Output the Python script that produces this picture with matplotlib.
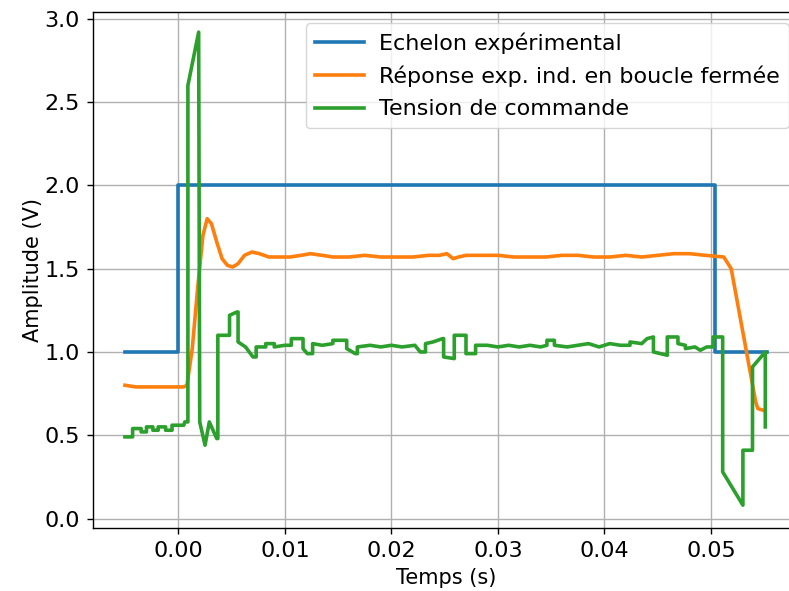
import numpy as np
import matplotlib
matplotlib.use("Agg")
from matplotlib import pyplot as plt

# time in ms, values in volts
t_step = [-5.0, 0.0, 0.0, 50.4, 50.4, 55.3]
v_step = [1.0, 1.0, 2.0, 2.0, 1.0, 1.0]

t_rep = [-5.02, -4.0, -2.0, 0.5, 0.8, 1.3, 1.8, 2.3, 2.7, 3.1, 3.6, 4.1, 4.6, 5.1, 5.6,
         6.2, 6.9, 7.6, 8.5, 9.5, 10.5, 11.5, 12.4, 13.5, 14.5, 16.0, 17.5, 19.0, 20.5,
         22.0, 23.5, 24.5, 25.2, 25.8, 26.3, 27.0, 28.5, 30.0, 31.5, 33.0, 34.5, 36.0,
         37.5, 39.0, 40.5, 42.0, 43.5, 45.0, 46.5, 48.0, 49.5, 51.2, 51.9, 54.2, 54.4, 54.9]
v_rep = [0.80, 0.79, 0.79, 0.79, 0.80, 1.02, 1.38, 1.70, 1.80, 1.77, 1.66, 1.56, 1.52,
         1.51, 1.53, 1.58, 1.60, 1.59, 1.57, 1.57, 1.57, 1.58, 1.59, 1.58, 1.57, 1.57,
         1.58, 1.57, 1.57, 1.57, 1.58, 1.58, 1.59, 1.56, 1.57, 1.58, 1.58, 1.58, 1.57,
         1.57, 1.57, 1.58, 1.58, 1.57, 1.57, 1.58, 1.57, 1.58, 1.59, 1.59, 1.58, 1.57,
         1.50, 0.70, 0.66, 0.65]

t_cmd = [-5.02, -4.3, -4.3, -3.5, -3.5, -3.0, -3.0, -2.4, -2.4, -1.9, -1.9, -1.2, -1.2,
         -0.6, -0.6, 0.5, 0.6, 0.89, 0.89, 1.9, 2.0, 2.5, 2.9, 3.6, 3.7, 3.7, 4.8, 4.8,
         5.5, 5.6, 5.6, 6.3, 7.0, 7.3, 7.3, 8.2, 8.2, 9.0, 9.0, 10.0, 10.6, 10.6, 11.7,
         11.7, 12.1, 12.6, 12.6, 13.5, 14.5, 14.5, 15.8, 15.8, 16.6, 16.8, 16.8, 18.0,
         19.0, 20.0, 21.0, 22.2, 22.7, 23.2, 23.2, 23.9, 24.8, 24.9, 24.9, 25.9, 25.9,
         27.0, 27.0, 27.9, 27.9, 29.0, 30.0, 31.0, 32.0, 33.0, 34.0, 34.6, 34.6, 35.3,
         35.3, 36.5, 37.5, 38.5, 39.5, 40.5, 41.5, 42.4, 42.4, 43.5, 44.0, 44.6, 44.6,
         45.9, 45.9, 46.9, 46.9, 47.6, 47.6, 48.5, 49.0, 49.6, 50.2, 50.2, 51.1, 51.1,
         53.0, 53.0, 53.9, 53.9, 55.1, 55.1]
v_cmd = [0.49, 0.49, 0.54, 0.54, 0.52, 0.52, 0.55, 0.55, 0.53, 0.53, 0.55, 0.55, 0.53,
         0.53, 0.56, 0.56, 0.58, 0.58, 2.60, 2.92, 0.58, 0.44, 0.58, 0.48, 0.48, 1.10,
         1.10, 1.22, 1.24, 1.24, 1.06, 1.03, 0.97, 0.97, 1.03, 1.03, 1.05, 1.05, 1.03,
         1.04, 1.04, 1.08, 1.08, 1.02, 0.99, 0.99, 1.05, 1.04, 1.05, 1.07, 1.07, 1.02,
         0.99, 0.99, 1.03, 1.04, 1.03, 1.04, 1.03, 1.04, 1.00, 1.00, 1.05, 1.06, 1.08,
         1.08, 0.97, 0.96, 1.10, 1.10, 0.99, 0.99, 1.04, 1.04, 1.03, 1.04, 1.03, 1.04,
         1.03, 1.04, 1.07, 1.07, 1.04, 1.03, 1.04, 1.05, 1.03, 1.05, 1.04, 1.04, 1.06,
         1.05, 1.08, 1.09, 1.00, 0.98, 1.09, 1.09, 1.05, 1.04, 1.02, 1.03, 1.01, 1.03,
         1.03, 1.09, 1.09, 0.28, 0.08, 0.41, 0.41, 0.91, 1.00, 0.55]

fig = plt.figure(figsize=(7.89, 5.91), dpi=100)
ax = fig.add_axes([93 / 789, 63 / 591, 707 / 789, 516 / 591])

ax.plot(np.array(t_step) / 1000, v_step, color='tab:blue', lw=2.6, label='Echelon expérimental')
ax.plot(np.array(t_rep) / 1000, v_rep, color='tab:orange', lw=2.6, label='Réponse exp. ind. en boucle fermée')
ax.plot(np.array(t_cmd) / 1000, v_cmd, color='tab:green', lw=2.6, label='Tension de commande')

ax.set_xlim(-0.00802, 0.05836)
ax.set_ylim(-0.057, 3.041)
ax.set_xticks([0.0, 0.01, 0.02, 0.03, 0.04, 0.05])
ax.set_yticks([0.0, 0.5, 1.0, 1.5, 2.0, 2.5, 3.0])
ax.grid(True, color='#b0b0b0', lw=1.0)
ax.tick_params(labelsize=16, length=4.5, width=1.0, pad=5)
for s in ax.spines.values():
    s.set_linewidth(1.0)
ax.spines['right'].set_visible(False)
ax.set_xlabel('Temps (s)', fontsize=15, labelpad=5)
ax.set_ylabel('Amplitude (V)', fontsize=15, labelpad=1)
ax.legend(loc='upper right', fontsize=16, labelspacing=0.55, handlelength=2.2,
          handletextpad=0.7, borderaxespad=0.5, framealpha=0.8,
          bbox_to_anchor=(1.0, 1.0))

fig.savefig('out.png', dpi=100)
